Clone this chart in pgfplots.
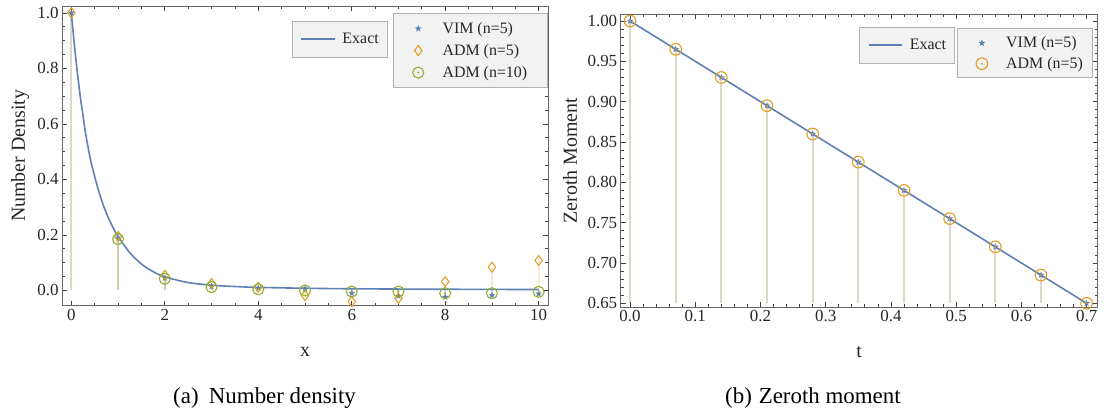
\documentclass[border=0pt]{standalone}
\usepackage{fontspec}
\setmainfont{Liberation Serif}
\usepackage{pgfplots}
\usepackage{pgfplotstable}
\pgfplotsset{compat=1.18}

\definecolor{mblue}{rgb}{0.368417,0.506779,0.709798}
\definecolor{morange}{rgb}{0.880722,0.611041,0.142051}
\definecolor{mgreen}{rgb}{0.560181,0.691569,0.194885}

\pgfdeclareplotmark{fstar}{%
  \pgfpathmoveto{\pgfpointpolar{90}{\pgfplotmarksize}}%
  \pgfpathlineto{\pgfpointpolar{126}{0.42\pgfplotmarksize}}%
  \pgfpathlineto{\pgfpointpolar{162}{\pgfplotmarksize}}%
  \pgfpathlineto{\pgfpointpolar{198}{0.42\pgfplotmarksize}}%
  \pgfpathlineto{\pgfpointpolar{234}{\pgfplotmarksize}}%
  \pgfpathlineto{\pgfpointpolar{270}{0.42\pgfplotmarksize}}%
  \pgfpathlineto{\pgfpointpolar{306}{\pgfplotmarksize}}%
  \pgfpathlineto{\pgfpointpolar{342}{0.42\pgfplotmarksize}}%
  \pgfpathlineto{\pgfpointpolar{18}{\pgfplotmarksize}}%
  \pgfpathlineto{\pgfpointpolar{54}{0.42\pgfplotmarksize}}%
  \pgfpathclose\pgfusepathqfill}
\pgfdeclareplotmark{odot}{%
  \pgfpathcircle{\pgfpointorigin}{\pgfplotmarksize}\pgfusepathqstroke
  \pgfpathcircle{\pgfpointorigin}{0.2\pgfplotmarksize}\pgfusepathqfill}

\pgfplotstableread{
x y
0 1.0
0.05 0.911
0.1 0.828
0.15 0.755
0.2 0.687
0.25 0.630
0.3 0.571
0.4 0.479
0.5 0.410
0.6 0.350
0.7 0.300
0.8 0.2586
0.9 0.2239
1.0 0.1944
1.25 0.136
1.5 0.0953
1.75 0.0678
2.0 0.049
2.5 0.0284
3.0 0.019
3.5 0.0141
4.0 0.011
5.0 0.0078
6.0 0.006
7.0 0.005
8.0 0.0043
9.0 0.0037
10.0 0.0033
}\exactA

\pgfplotstableread{
x y
0 1.0
1 0.19
2 0.045
3 0.015
4 0.008
5 0.006
6 -0.010
7 -0.020
8 -0.024
9 -0.018
10 -0.012
}\vimA

\pgfplotstableread{
x y
0 1.0
1 0.195
2 0.055
3 0.025
4 0.012
5 -0.018
6 -0.040
7 -0.028
8 0.032
9 0.084
10 0.108
}\admAfive

\pgfplotstableread{
x y
1 0.185
2 0.042
3 0.012
4 0.004
5 0.0
6 -0.004
7 -0.004
8 -0.010
9 -0.010
10 -0.005
}\admAten

\pgfplotstableread{
x y
0 1.0
0.07 0.965
0.14 0.93
0.21 0.895
0.28 0.86
0.35 0.825
0.42 0.79
0.49 0.755
0.56 0.72
0.63 0.685
0.7 0.65
}\momB

\pgfplotsset{
  mma/.style={
    scale only axis,
    axis line style={black!60, line width=0.9bp},
    tick style={black!75, line width=0.8bp},
    major tick length=5bp, minor tick length=3bp,
    tick align=inside,
    /pgf/number format/assume math mode=true,
    ticklabel style={font=\fontsize{17}{17}\selectfont, text=black!85},
    label style={font=\fontsize{20}{20}\selectfont, text=black!85},
    clip=false,
  },
  mleg/.style={
    fill=black!5, draw=black!30, line width=1bp,
    font=\fontsize{16}{16}\selectfont, text=black!85,
    inner xsep=10bp, inner ysep=9bp, row sep=9.5bp,
    nodes={inner sep=0bp},
    cells={anchor=west},
  },
  mlegline/.style={
    fill=black!5, draw=black!30, line width=1bp,
    font=\fontsize{16}{16}\selectfont, text=black!85,
    inner xsep=8.5bp, inner ysep=12bp,
    nodes={inner sep=0bp},
    cells={anchor=west},
  },
  markleg/.style={legend image code/.code={%
    \path[draw=none, fill=none] (0bp,-3bp) rectangle (39bp,3bp);
    \draw[##1, line width=1.1bp] plot coordinates {(14.7bp,0bp)};}},
  lineleg/.style={legend image code/.code={%
    \path[draw=none, fill=none] (0bp,-3bp) rectangle (41bp,3bp);
    \draw[##1, line width=1.6bp] (0bp,0bp) -- (33.5bp,0bp);}},
}

\begin{document}
\begin{tikzpicture}[x=1bp,y=1bp]
\useasboundingbox (0,0) rectangle (1107,412);

% ---------- left panel ----------
\begin{axis}[mma,
  at={(62bp,106.3bp)}, anchor=south west,
  width=486bp, height=299.7bp,
  xmin=-0.2, xmax=10.2, ymin=-0.055, ymax=1.025,
  xtick={0,2,4,6,8,10}, minor x tick num=3,
  ytick={0,0.2,0.4,0.6,0.8,1.0}, minor y tick num=3,
  yticklabel style={/pgf/number format/.cd, fixed, fixed zerofill, precision=1},
  xlabel={x}, ylabel={Number Density},
  xlabel style={at={(axis description cs:0.5,-0.1535)}, anchor=center},
  ylabel style={at={(axis description cs:-0.0864,0.5)}, anchor=center},
  legend style={mleg, at={(axis description cs:0.9994,0.9776)}, anchor=north east},
  markleg,
]
\addplot[ycomb, mblue, opacity=0.2, line width=2bp, mark=none, forget plot] table {\vimA};
\addplot[ycomb, morange, opacity=0.2, line width=2bp, mark=none, forget plot] table {\admAfive};
\addplot[ycomb, mgreen, opacity=0.2, line width=2bp, mark=none, forget plot] table {\admAten};
\addplot[mblue, line width=1.6bp, smooth, mark=none, forget plot] table {\exactA};
\addplot[only marks, mblue, mark=fstar, mark size=3.6bp] table {\vimA};
\addlegendentry{VIM (n=5)\hspace*{10bp}}
\addplot[only marks, morange, mark=diamond, mark size=5bp, line width=1bp] table {\admAfive};
\addlegendentry{ADM (n=5)\hspace*{10bp}}
\addplot[only marks, mgreen, mark=odot, mark size=5.5bp, line width=1.1bp] table {\admAten};
\addlegendentry{ADM (n=10)\hspace*{10bp}}
\end{axis}

\begin{axis}[mma, hide axis,
  at={(62bp,106.3bp)}, anchor=south west,
  width=486bp, height=299.7bp,
  xmin=-0.2, xmax=10.2, ymin=-0.055, ymax=1.025,
  legend style={mlegline, at={(axis description cs:0.4726,0.951)}, anchor=north west},
  lineleg,
]
\addlegendimage{mblue}
\addlegendentry{Exact}
\end{axis}

% ---------- right panel ----------
\begin{axis}[mma,
  at={(620.7bp,105bp)}, anchor=south west,
  width=477bp, height=293bp,
  xmin=-0.0143, xmax=0.717, ymin=0.6454, ymax=1.0087,
  xtick={0,0.1,0.2,0.3,0.4,0.5,0.6,0.7}, minor x tick num=4,
  ytick={0.65,0.7,0.75,0.8,0.85,0.9,0.95,1.0}, minor y tick num=4,
  xticklabel style={/pgf/number format/.cd, fixed, fixed zerofill, precision=1},
  yticklabel style={/pgf/number format/.cd, fixed, fixed zerofill, precision=2},
  xlabel={t}, ylabel={Zeroth Moment},
  xlabel style={at={(axis description cs:0.5,-0.1536)}, anchor=center},
  ylabel style={at={(axis description cs:-0.1063,0.5)}, anchor=center},
  legend style={mleg, row sep=8bp, inner ysep=8bp, at={(axis description cs:0.7044,0.951)}, anchor=north west},
  markleg,
  unbounded coords=jump,
]
\addplot[mblue, opacity=0.2, line width=2bp, mark=none, forget plot] coordinates {
 (0,0.65) (0,1.0) (0.01,nan)
 (0.07,0.65) (0.07,0.965) (0.08,nan)
 (0.14,0.65) (0.14,0.93) (0.15,nan)
 (0.21,0.65) (0.21,0.895) (0.22,nan)
 (0.28,0.65) (0.28,0.86) (0.29,nan)
 (0.35,0.65) (0.35,0.825) (0.36,nan)
 (0.42,0.65) (0.42,0.79) (0.43,nan)
 (0.49,0.65) (0.49,0.755) (0.50,nan)
 (0.56,0.65) (0.56,0.72) (0.57,nan)
 (0.63,0.65) (0.63,0.685) (0.64,nan)
};
\addplot[morange, opacity=0.2, line width=2bp, mark=none, forget plot] coordinates {
 (0,0.65) (0,1.0) (0.01,nan)
 (0.07,0.65) (0.07,0.965) (0.08,nan)
 (0.14,0.65) (0.14,0.93) (0.15,nan)
 (0.21,0.65) (0.21,0.895) (0.22,nan)
 (0.28,0.65) (0.28,0.86) (0.29,nan)
 (0.35,0.65) (0.35,0.825) (0.36,nan)
 (0.42,0.65) (0.42,0.79) (0.43,nan)
 (0.49,0.65) (0.49,0.755) (0.50,nan)
 (0.56,0.65) (0.56,0.72) (0.57,nan)
 (0.63,0.65) (0.63,0.685) (0.64,nan)
};
\addplot[mblue, line width=1.6bp, mark=none, forget plot] coordinates {(0,1.0) (0.7,0.65)};
\addplot[only marks, mblue, mark=fstar, mark size=3.6bp] table {\momB};
\addlegendentry{VIM (n=5)}
\addplot[only marks, morange, mark=odot, mark size=5.8bp, line width=1.1bp] table {\momB};
\addlegendentry{ADM (n=5)}
\end{axis}

\begin{axis}[mma, hide axis,
  at={(620.7bp,105bp)}, anchor=south west,
  width=477bp, height=293bp,
  xmin=-0.0143, xmax=0.717, ymin=0.6454, ymax=1.0087,
  legend style={mlegline, at={(axis description cs:0.4996,0.9567)}, anchor=north west},
  lineleg,
]
\addlegendimage{mblue}
\addlegendentry{Exact}
\end{axis}

% ---------- captions ----------
\node[anchor=base west, font=\fontsize{23}{23}\selectfont, inner sep=0pt] at (173,9) {(a)\hspace{0.45em}Number density};
\node[anchor=base west, font=\fontsize{23}{23}\selectfont, inner sep=0pt] at (725,9) {(b)\hspace{0.3em}Zeroth moment};
\end{tikzpicture}
\end{document}
